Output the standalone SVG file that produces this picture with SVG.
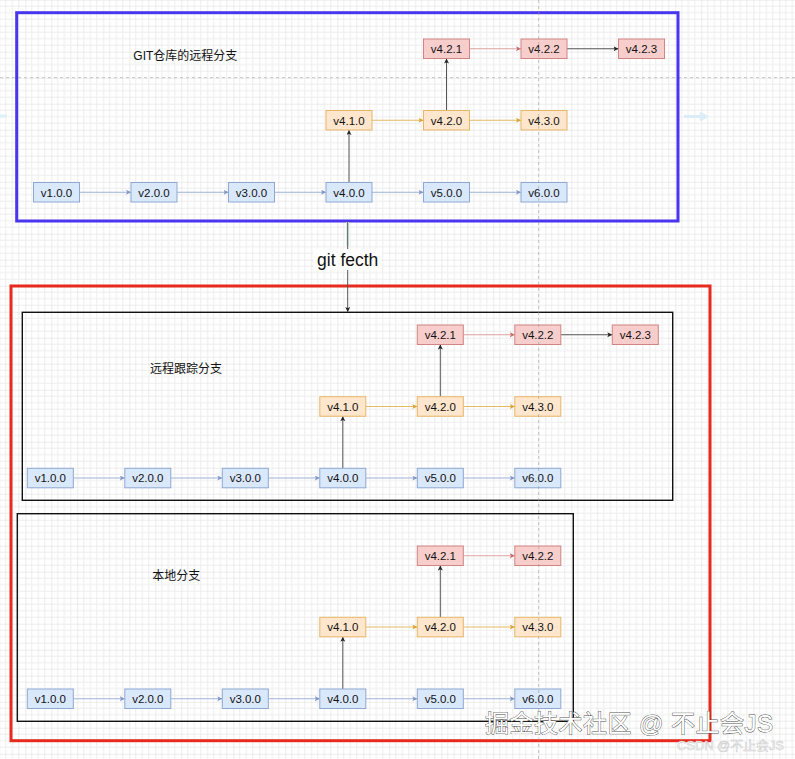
<svg xmlns="http://www.w3.org/2000/svg" width="795" height="759" viewBox="0 0 795 759">
<style>
.n rect{stroke-width:1}
.b rect{fill:#dae8fc;stroke:#8ea8d2}
.o rect{fill:#ffe6cc;stroke:#e6b768}
.r rect{fill:#f8cecc;stroke:#cf8582}
.n text{font-family:"Liberation Sans",Arial,sans-serif;font-size:11.5px;fill:#111;text-anchor:middle;dominant-baseline:central}
.lbl{font-family:"Liberation Sans","Noto Sans CJK SC",sans-serif;font-size:12px;fill:#111}
.cb{stroke:#9fb3d6;stroke-width:1;fill:none;marker-end:url(#mb)}
.co{stroke:#e3bb62;stroke-width:1;fill:none;marker-end:url(#mo)}
.cr{stroke:#dea2a2;stroke-width:1;fill:none;marker-end:url(#mr)}
.cd{stroke:#555;stroke-width:1;fill:none;marker-end:url(#md)}
</style>
<defs>
<pattern id="grid" width="26" height="26" patternUnits="userSpaceOnUse" x="-0.7" y="-0.3">
<path d="M6.5,0V26M13,0V26M19.5,0V26M0,6.5H26M0,13H26M0,19.5H26" stroke="#ededed" stroke-width="1" fill="none"/>
<path d="M0,0V26M0,0H26" stroke="#dcdcdc" stroke-width="1" fill="none"/>
</pattern>
<marker id="mb" markerUnits="userSpaceOnUse" markerWidth="6" markerHeight="6" refX="5" refY="2.5" orient="auto"><path d="M0,0L5,2.5L0,5L1.2,2.5z" fill="#7f97c6"/></marker>
<marker id="mo" markerUnits="userSpaceOnUse" markerWidth="6" markerHeight="6" refX="5" refY="2.5" orient="auto"><path d="M0,0L5,2.5L0,5L1.2,2.5z" fill="#d8a32e"/></marker>
<marker id="mr" markerUnits="userSpaceOnUse" markerWidth="6" markerHeight="6" refX="5" refY="2.5" orient="auto"><path d="M0,0L5,2.5L0,5L1.2,2.5z" fill="#c96a6a"/></marker>
<marker id="md" markerUnits="userSpaceOnUse" markerWidth="6" markerHeight="6" refX="5" refY="2.5" orient="auto"><path d="M0,0L5,2.5L0,5L1.2,2.5z" fill="#222"/></marker>
</defs>
<rect width="795" height="759" fill="#fff"/>
<rect width="795" height="759" fill="url(#grid)"/>
<line x1="0" y1="77.7" x2="795" y2="77.7" stroke="#b5b5b5" stroke-width="0.8" stroke-dasharray="3,3"/>
<path d="M0,116H7" stroke="#dcf0f6" stroke-width="3"/>
<path d="M684,116.5H704M700,113L706,116.5L700,120" stroke="#dcedf8" stroke-width="3" fill="none"/>

<g id="remote-repo">
<rect x="16.7" y="12.7" width="661.3" height="208.3" fill="none" stroke="#4a35ee" stroke-width="3"/>
<text class="lbl" x="133.3" y="60">GIT仓库的远程分支</text>
</g>
<g id="local-repo">
<rect x="11" y="286" width="699" height="454.7" fill="none" stroke="#e8291d" stroke-width="3"/>
</g>
<g id="tracking-box">
<rect x="22.3" y="312.3" width="650.4" height="188" fill="none" stroke="#111" stroke-width="1.4"/>
<text class="lbl" x="150" y="372.5">远程跟踪分支</text>
</g>
<g id="local-box">
<rect x="17.3" y="513.7" width="556" height="207.6" fill="none" stroke="#111" stroke-width="1.4"/>
<text class="lbl" x="152.3" y="580.2">本地分支</text>
</g>

<g id="connectors">
<path class="cb" d="M79.5,192.25H131"/>
<path class="cb" d="M177,192.25H228.5"/>
<path class="cb" d="M274.5,192.25H326"/>
<path class="cb" d="M372,192.25H423.5"/>
<path class="cb" d="M469.5,192.25H521"/>
<path class="co" d="M372,120.25H423.5"/>
<path class="co" d="M469.5,120.25H521"/>
<path class="cd" d="M349,182.5V130"/>
<path class="cd" d="M446.5,110.5V58.5"/>
<path class="cr" d="M469.5,48.75H521"/>
<path class="cd" d="M567,48.75H618.5"/>

<path class="cb" d="M73.3,478H124.8"/>
<path class="cb" d="M170.8,478H222.3"/>
<path class="cb" d="M268.3,478H319.8"/>
<path class="cb" d="M365.8,478H417.3"/>
<path class="cb" d="M463.3,478H514.8"/>
<path class="co" d="M365.8,406.5H417.3"/>
<path class="co" d="M463.3,406.5H514.8"/>
<path class="cd" d="M342.8,468.3V416.2"/>
<path class="cd" d="M440.3,396.7V344.5"/>
<path class="cr" d="M463.3,334.75H514.8"/>
<path class="cd" d="M560.8,334.75H612.3"/>

<path class="cb" d="M73.3,698.75H124.8"/>
<path class="cb" d="M170.8,698.75H222.3"/>
<path class="cb" d="M268.3,698.75H319.8"/>
<path class="cb" d="M365.8,698.75H417.3"/>
<path class="cb" d="M463.3,698.75H514.8"/>
<path class="co" d="M365.8,627H417.3"/>
<path class="co" d="M463.3,627H514.8"/>
<path class="cd" d="M342.8,689V636.8"/>
<path class="cd" d="M440.3,617.3V565.5"/>
<path class="cr" d="M463.3,555.75H514.8"/>

<path d="M347.7,222V246" stroke="#d6eeee" stroke-width="3" fill="none"/>
<path class="cd" d="M347.7,221.5V312"/>
<rect x="313" y="249" width="69" height="21" fill="#fff"/>
<text x="347.7" y="265.5" font-family="'Liberation Sans',Arial,sans-serif" font-size="17.5" fill="#111" text-anchor="middle">git fecth</text>
</g>

<g id="r1-v1" class="n b"><rect x="33.5" y="182.5" width="46" height="19.5"/><text x="56.5" y="192.5">v1.0.0</text></g>
<g id="r1-v2" class="n b"><rect x="131" y="182.5" width="46" height="19.5"/><text x="154" y="192.5">v2.0.0</text></g>
<g id="r1-v3" class="n b"><rect x="228.5" y="182.5" width="46" height="19.5"/><text x="251.5" y="192.5">v3.0.0</text></g>
<g id="r1-v4" class="n b"><rect x="326" y="182.5" width="46" height="19.5"/><text x="349" y="192.5">v4.0.0</text></g>
<g id="r1-v5" class="n b"><rect x="423.5" y="182.5" width="46" height="19.5"/><text x="446.5" y="192.5">v5.0.0</text></g>
<g id="r1-v6" class="n b"><rect x="521" y="182.5" width="46" height="19.5"/><text x="544" y="192.5">v6.0.0</text></g>
<g id="r1-v41" class="n o"><rect x="326" y="110.5" width="46" height="19.5"/><text x="349" y="120.5">v4.1.0</text></g>
<g id="r1-v42" class="n o"><rect x="423.5" y="110.5" width="46" height="19.5"/><text x="446.5" y="120.5">v4.2.0</text></g>
<g id="r1-v43" class="n o"><rect x="521" y="110.5" width="46" height="19.5"/><text x="544" y="120.5">v4.3.0</text></g>
<g id="r1-v421" class="n r"><rect x="423.5" y="39" width="46" height="19.5"/><text x="446.5" y="49">v4.2.1</text></g>
<g id="r1-v422" class="n r"><rect x="521" y="39" width="46" height="19.5"/><text x="544" y="49">v4.2.2</text></g>
<g id="r1-v423" class="n r"><rect x="618.5" y="39" width="46" height="19.5"/><text x="641.5" y="49">v4.2.3</text></g>

<g id="r2-v1" class="n b"><rect x="27.3" y="468.3" width="46" height="19.5"/><text x="50.3" y="478.3">v1.0.0</text></g>
<g id="r2-v2" class="n b"><rect x="124.8" y="468.3" width="46" height="19.5"/><text x="147.8" y="478.3">v2.0.0</text></g>
<g id="r2-v3" class="n b"><rect x="222.3" y="468.3" width="46" height="19.5"/><text x="245.3" y="478.3">v3.0.0</text></g>
<g id="r2-v4" class="n b"><rect x="319.8" y="468.3" width="46" height="19.5"/><text x="342.8" y="478.3">v4.0.0</text></g>
<g id="r2-v5" class="n b"><rect x="417.3" y="468.3" width="46" height="19.5"/><text x="440.3" y="478.3">v5.0.0</text></g>
<g id="r2-v6" class="n b"><rect x="514.8" y="468.3" width="46" height="19.5"/><text x="537.8" y="478.3">v6.0.0</text></g>
<g id="r2-v41" class="n o"><rect x="319.8" y="396.7" width="46" height="19.5"/><text x="342.8" y="406.7">v4.1.0</text></g>
<g id="r2-v42" class="n o"><rect x="417.3" y="396.7" width="46" height="19.5"/><text x="440.3" y="406.7">v4.2.0</text></g>
<g id="r2-v43" class="n o"><rect x="514.8" y="396.7" width="46" height="19.5"/><text x="537.8" y="406.7">v4.3.0</text></g>
<g id="r2-v421" class="n r"><rect x="417.3" y="325" width="46" height="19.5"/><text x="440.3" y="335">v4.2.1</text></g>
<g id="r2-v422" class="n r"><rect x="514.8" y="325" width="46" height="19.5"/><text x="537.8" y="335">v4.2.2</text></g>
<g id="r2-v423" class="n r"><rect x="612.3" y="325" width="46" height="19.5"/><text x="635.3" y="335">v4.2.3</text></g>

<g id="r3-v1" class="n b"><rect x="27.3" y="689" width="46" height="19.5"/><text x="50.3" y="699">v1.0.0</text></g>
<g id="r3-v2" class="n b"><rect x="124.8" y="689" width="46" height="19.5"/><text x="147.8" y="699">v2.0.0</text></g>
<g id="r3-v3" class="n b"><rect x="222.3" y="689" width="46" height="19.5"/><text x="245.3" y="699">v3.0.0</text></g>
<g id="r3-v4" class="n b"><rect x="319.8" y="689" width="46" height="19.5"/><text x="342.8" y="699">v4.0.0</text></g>
<g id="r3-v5" class="n b"><rect x="417.3" y="689" width="46" height="19.5"/><text x="440.3" y="699">v5.0.0</text></g>
<g id="r3-v6" class="n b"><rect x="514.8" y="689" width="46" height="19.5"/><text x="537.8" y="699">v6.0.0</text></g>
<g id="r3-v41" class="n o"><rect x="319.8" y="617.3" width="46" height="19.5"/><text x="342.8" y="627.3">v4.1.0</text></g>
<g id="r3-v42" class="n o"><rect x="417.3" y="617.3" width="46" height="19.5"/><text x="440.3" y="627.3">v4.2.0</text></g>
<g id="r3-v43" class="n o"><rect x="514.8" y="617.3" width="46" height="19.5"/><text x="537.8" y="627.3">v4.3.0</text></g>
<g id="r3-v421" class="n r"><rect x="417.3" y="546" width="46" height="19.5"/><text x="440.3" y="556">v4.2.1</text></g>
<g id="r3-v422" class="n r"><rect x="514.8" y="546" width="46" height="19.5"/><text x="537.8" y="556">v4.2.2</text></g>

<line x1="538.7" y1="0" x2="538.7" y2="759" stroke="#9a9a9a" stroke-width="0.8" stroke-dasharray="3,3" opacity="0.7"/>

<g id="watermark">
<text x="485" y="731.5" font-family="'Liberation Sans','Noto Sans CJK SC',sans-serif" font-size="24" fill="#fff" stroke="#555" stroke-width="0.9" paint-order="stroke" textLength="288">掘金技术社区 @ 不止会JS</text>
<text x="677" y="749.5" font-family="'Liberation Sans','Noto Sans CJK SC',sans-serif" font-size="13" fill="#fff" stroke="#c8c8c8" stroke-width="0.5" textLength="107">CSDN @不止会JS</text>
</g>
</svg>
